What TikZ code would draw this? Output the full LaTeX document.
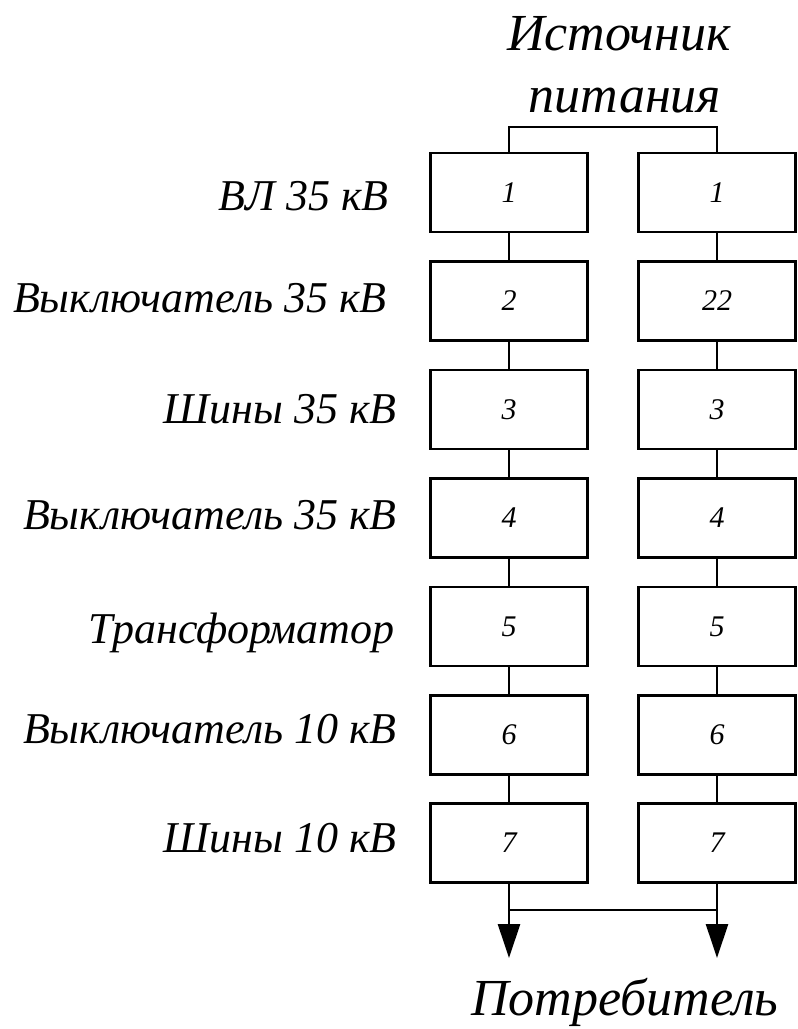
\documentclass[tikz,border=0pt]{standalone}
\usepackage{fontspec}
\setmainfont{Liberation Serif}
\usetikzlibrary{arrows.meta}
\begin{document}
\begin{tikzpicture}[x=0.75pt,y=-0.75pt,
  line width=1.9pt,
  blk/.style={draw, line width=1.9pt, minimum width=117.75pt, minimum height=59.25pt, inner sep=0pt,
    font=\fontsize{22.5}{26}\selectfont\itshape},
  lbl/.style={anchor=base east, inner sep=0pt, font=\fontsize{33}{40}\selectfont\itshape},
  ttl/.style={anchor=base, inner sep=0pt, font=\fontsize{39}{46}\selectfont\itshape},
  arr/.style={-{Triangle[length=25.5pt,width=16.5pt]}}]
\useasboundingbox (0,0) rectangle (797,1029);
% boxes
\foreach \i/\a/\b/\y in {1/1/1/192.5, 2/2/22/301, 3/3/3/409.5, 4/4/4/518, 5/5/5/626.5, 6/6/6/735, 7/7/7/843}{
  \node[blk] (L\i) at (509,\y) {\a};
  \node[blk] (R\i) at (717,\y) {\b};
}
% labels
\node[lbl] (t1) at (390,210) {ВЛ 35 кВ};
\node[lbl] (t2) at (388,312) {Выключатель 35 кВ};
\node[lbl] (t3) at (398,423) {Шины 35 кВ};
\node[lbl] (t4) at (398,529) {Выключатель 35 кВ};
\node[lbl] (t5) at (396,643) {Трансформатор};
\node[lbl] (t6) at (398,743) {Выключатель 10 кВ};
\node[lbl] (t7) at (398,852) {Шины 10 кВ};
% titles
\node[ttl] (src1) at (619,50) {Источник};
\node[ttl] (src2) at (625,112) {питания};
\node[ttl] (cons) at (625,1015) {Потребитель};
% connectors
\coordinate (tl) at (509,127);
\coordinate (tr) at (717,127);
\draw (L1.north) -- (tl) -- (tr) -- (R1.north);
\foreach \i [evaluate=\i as \j using int(\i+1)] in {1,...,6}{
  \draw (L\i.south) -- (L\j.north);
  \draw (R\i.south) -- (R\j.north);
}
\coordinate (bl) at (509,910);
\coordinate (br) at (717,910);
\coordinate (ol) at (509,958);
\coordinate (or) at (717,958);
\draw (bl) -- (br);
\draw[arr] (L7.south) -- (ol);
\draw[arr] (R7.south) -- (or);
\end{tikzpicture}
\end{document}
